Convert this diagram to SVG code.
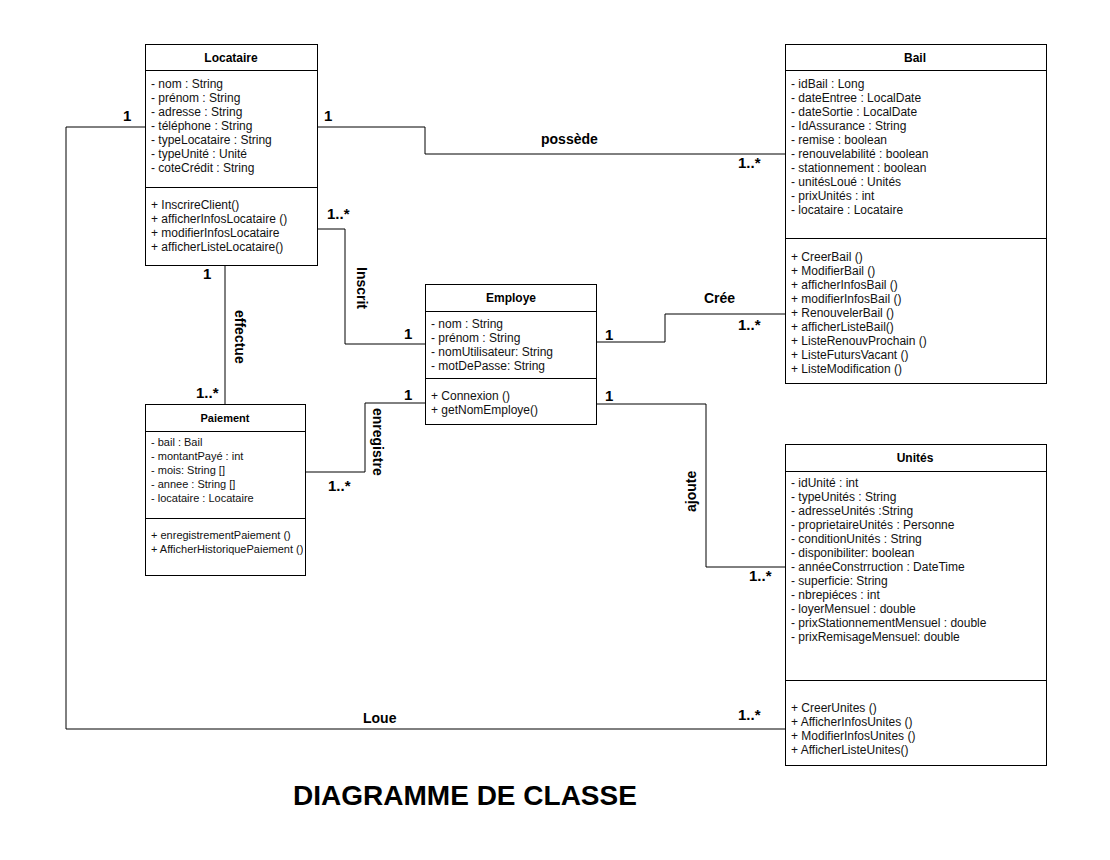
<svg xmlns="http://www.w3.org/2000/svg" width="1110" height="860" viewBox="0 0 1110 860">
<style>
.box{fill:#fff;stroke:#000;stroke-width:1}
.sep{stroke:#000;stroke-width:1}
.t{font-family:"Liberation Sans",Arial,sans-serif;font-size:12px;fill:#111}
.ts{font-family:"Liberation Sans",Arial,sans-serif;font-size:11px;fill:#111}
.h{font-family:"Liberation Sans",Arial,sans-serif;font-size:12px;font-weight:bold;fill:#000;text-anchor:middle}
.m{font-family:"Liberation Sans",Arial,sans-serif;font-size:15px;font-weight:bold;fill:#000}
.l{font-family:"Liberation Sans",Arial,sans-serif;font-size:14px;font-weight:bold;fill:#000}
.c{fill:none;stroke:#000;stroke-width:1}
</style>
<defs>
<clipPath id="cp"><rect x="145" y="404" width="158" height="171"/></clipPath>
</defs>
<rect width="1110" height="860" fill="#fff"/>
<g id="connectors">
<polyline class="c" points="317,127 425,127 425,154 785,154"/>
<polyline class="c" points="145,127 66,127 66,729 785,729"/>
<polyline class="c" points="317,229 345,229 345,344 425,344"/>
<polyline class="c" points="596,342 665,342 665,314 785,314"/>
<polyline class="c" points="305,472 365,472 365,403 425,403"/>
<polyline class="c" points="596,404 706,404 706,567 785,567"/>
<line class="c" x1="225" y1="265" x2="225" y2="404"/>
<text class="m" x="324" y="121">1</text>
<text class="l" x="541" y="144">possède</text>
<text class="m" x="738" y="168">1..*</text>
<text class="m" x="123" y="121">1</text>
<text class="l" x="363" y="723">Loue</text>
<text class="m" x="738" y="720">1..*</text>
<text class="m" x="327" y="219">1..*</text>
<text class="l" transform="translate(357,267) rotate(90)">Inscrit</text>
<text class="m" x="404" y="339">1</text>
<text class="m" x="605" y="340">1</text>
<text class="l" x="704" y="303">Crée</text>
<text class="m" x="738" y="330">1..*</text>
<text class="m" x="404" y="400">1</text>
<text class="l" transform="translate(373,408) rotate(90)">enregistre</text>
<text class="m" x="328" y="491">1..*</text>
<text class="m" x="605" y="401">1</text>
<text class="l" transform="translate(696,512) rotate(-90)">ajoute</text>
<text class="m" x="749" y="581">1..*</text>
<text class="m" x="203" y="279">1</text>
<text class="l" transform="translate(235,310) rotate(90)">effectue</text>
<text class="m" x="196" y="398">1..*</text>
</g>
<g id="Locataire">
<rect class="box" x="145.5" y="44.5" width="172" height="221"/>
<line class="sep" x1="145" y1="70.5" x2="317" y2="70.5"/>
<line class="sep" x1="145" y1="187.5" x2="317" y2="187.5"/>
<text class="h" x="231" y="62">Locataire</text>
<text class="t" x="151" y="88">- nom : String</text>
<text class="t" x="151" y="102">- prénom : String</text>
<text class="t" x="151" y="116">- adresse : String</text>
<text class="t" x="151" y="130">- téléphone : String</text>
<text class="t" x="151" y="144">- typeLocataire : String</text>
<text class="t" x="151" y="158">- typeUnité : Unité</text>
<text class="t" x="151" y="172">- coteCrédit : String</text>
<text class="t" x="151" y="209">+ InscrireClient()</text>
<text class="t" x="151" y="223">+ afficherInfosLocataire ()</text>
<text class="t" x="151" y="237">+ modifierInfosLocataire</text>
<text class="t" x="151" y="251">+ afficherListeLocataire()</text>
</g>
<g id="Bail">
<rect class="box" x="785.5" y="44.5" width="261" height="339"/>
<line class="sep" x1="785" y1="70.5" x2="1046" y2="70.5"/>
<line class="sep" x1="785" y1="238.5" x2="1046" y2="238.5"/>
<text class="h" x="915" y="62">Bail</text>
<text class="t" x="791" y="88">- idBail : Long</text>
<text class="t" x="791" y="102">- dateEntree : LocalDate</text>
<text class="t" x="791" y="116">- dateSortie : LocalDate</text>
<text class="t" x="791" y="130">- IdAssurance : String</text>
<text class="t" x="791" y="144">- remise : boolean</text>
<text class="t" x="791" y="158">- renouvelabilité : boolean</text>
<text class="t" x="791" y="172">- stationnement : boolean</text>
<text class="t" x="791" y="186">- unitésLoué : Unités</text>
<text class="t" x="791" y="200">- prixUnités : int</text>
<text class="t" x="791" y="214">- locataire : Locataire</text>
<text class="t" x="791" y="261">+ CreerBail ()</text>
<text class="t" x="791" y="275">+ ModifierBail ()</text>
<text class="t" x="791" y="289">+ afficherInfosBail ()</text>
<text class="t" x="791" y="303">+ modifierInfosBail ()</text>
<text class="t" x="791" y="317">+ RenouvelerBail ()</text>
<text class="t" x="791" y="331">+ afficherListeBail()</text>
<text class="t" x="791" y="345">+ ListeRenouvProchain ()</text>
<text class="t" x="791" y="359">+ ListeFutursVacant ()</text>
<text class="t" x="791" y="373">+ ListeModification ()</text>
</g>
<g id="Employe">
<rect class="box" x="425.5" y="284.5" width="171" height="140"/>
<line class="sep" x1="425" y1="311.5" x2="596" y2="311.5"/>
<line class="sep" x1="425" y1="378.5" x2="596" y2="378.5"/>
<text class="h" x="511" y="302">Employe</text>
<text class="t" x="431" y="328">- nom : String</text>
<text class="t" x="431" y="342">- prénom : String</text>
<text class="t" x="431" y="356">- nomUtilisateur: String</text>
<text class="t" x="431" y="370">- motDePasse: String</text>
<text class="t" x="431" y="400">+ Connexion ()</text>
<text class="t" x="431" y="414">+ getNomEmploye()</text>
</g>
<g id="Paiement">
<rect class="box" x="145.5" y="404.5" width="160" height="171"/>
<line class="sep" x1="145" y1="431.5" x2="305" y2="431.5"/>
<line class="sep" x1="145" y1="518.5" x2="305" y2="518.5"/>
<text class="h" x="225" y="422" style="font-size:11px">Paiement</text>
<text class="ts" x="151" y="446">- bail : Bail</text>
<text class="ts" x="151" y="460">- montantPayé : int</text>
<text class="ts" x="151" y="474">- mois: String []</text>
<text class="ts" x="151" y="488">- annee : String []</text>
<text class="ts" x="151" y="502">- locataire : Locataire</text>
<text class="ts" x="151" y="539">+ enregistrementPaiement ()</text>
<text class="ts" x="151" y="553" clip-path="url(#cp)">+ AfficherHistoriquePaiement ()</text>
</g>
<g id="Unites">
<rect class="box" x="785.5" y="444.5" width="261" height="321"/>
<line class="sep" x1="785" y1="471.5" x2="1046" y2="471.5"/>
<line class="sep" x1="785" y1="680.5" x2="1046" y2="680.5"/>
<text class="h" x="915" y="462">Unités</text>
<text class="t" x="791" y="487">- idUnité : int</text>
<text class="t" x="791" y="501">- typeUnités : String</text>
<text class="t" x="791" y="515">- adresseUnités :String</text>
<text class="t" x="791" y="529">- proprietaireUnités : Personne</text>
<text class="t" x="791" y="543">- conditionUnités : String</text>
<text class="t" x="791" y="557">- disponibiliter: boolean</text>
<text class="t" x="791" y="571">- annéeConstrruction : DateTime</text>
<text class="t" x="791" y="585">- superficie: String</text>
<text class="t" x="791" y="599">- nbrepiéces : int</text>
<text class="t" x="791" y="613">- loyerMensuel : double</text>
<text class="t" x="791" y="627">- prixStationnementMensuel : double</text>
<text class="t" x="791" y="641">- prixRemisageMensuel: double</text>
<text class="t" x="791" y="712">+ CreerUnites ()</text>
<text class="t" x="791" y="726">+ AfficherInfosUnites ()</text>
<text class="t" x="791" y="740">+ ModifierInfosUnites ()</text>
<text class="t" x="791" y="754">+ AfficherListeUnites()</text>
</g>
<text x="465" y="805" text-anchor="middle" style="font-family:'Liberation Sans',Arial,sans-serif;font-size:28px;font-weight:bold;fill:#000">DIAGRAMME DE CLASSE</text>
</svg>
